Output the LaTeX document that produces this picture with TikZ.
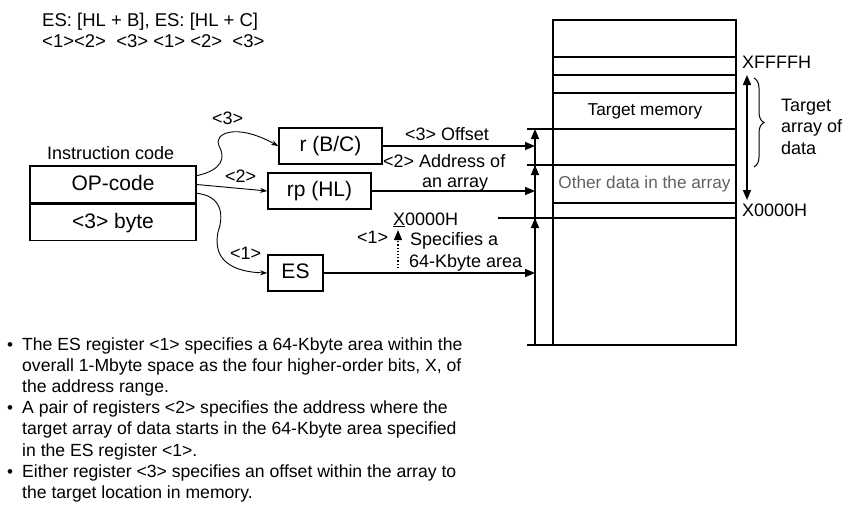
\documentclass[tikz,border=0pt]{standalone}
\usepackage{fontspec}
\setmainfont{Liberation Sans}
\usetikzlibrary{arrows.meta,decorations.pathreplacing}

\tikzset{
  regbox/.style={draw, line width=1.6pt, minimum width=103pt, minimum height=36pt, inner sep=0pt,
    text height=15pt, text depth=4pt, font=\fontsize{21}{24}\selectfont},
  lbl/.style={inner sep=0pt, anchor=base west, font=\fontsize{18}{21}\selectfont},
  memtxt/.style={inner sep=0pt, anchor=base, font=\fontsize{17.2}{20}\selectfont},
  notetxt/.style={inner sep=0pt, anchor=base west, font=\fontsize{17.6}{21}\selectfont},
  fat/.style={line width=1.6pt},
  arr/.style={-{Triangle[length=10pt,width=8pt]}},
  wiggle/.style={line width=0.9pt, -{Stealth[length=7pt,width=5pt]}},
}

\begin{document}
\begin{tikzpicture}[x=1pt, y=-1pt]
    \useasboundingbox (0,0) rectangle (849,512);

    % syntax at the top
    \node[lbl, font=\fontsize{18.5}{21}\selectfont] (syn) at (42,26.5) {ES: [HL + B], ES: [HL + C]};
    \node[lbl, font=\fontsize{18.5}{21}\selectfont] (synnum) at (42,47) {<1><2>\ \ <3> <1> <2>\ \ <3>};

    % instruction code
    \node[lbl] (instr) at (47,159) {Instruction code};
    \node[regbox, minimum width=166pt, minimum height=37pt] (opcode) at (113,184.5) {OP-code};
    \node[regbox, minimum width=166pt, anchor=north] (nbyte) at (opcode.south) {<3> byte};

    % registers
    \node[regbox] (rbc) at (330.5,146) {r (B/C)};
    \node[regbox] (rphl) at (319.5,191) {rp (HL)};
    \node[regbox, minimum width=55pt] (es) at (295.5,273) {ES};

    \draw[wiggle] (opcode.6) .. controls (222,170) and (226,158) .. (219,146)
        .. controls (213,134) and (235,122) .. (rbc.west);
    \draw[wiggle] (opcode.east) -- (rphl.west);
    \draw[wiggle] (opcode.-6) .. controls (222,196) and (224,215) .. (218,232)
        .. controls (212,262) and (235,272) .. (es.west);
    \node[lbl] (c3) at (212,124) {<3>};
    \node[lbl] (c2) at (225,182) {<2>};
    \node[lbl] (c1) at (230,259) {<1>};

    % memory map
    \draw[fat] (553,20) rectangle (736,345);
    \foreach \y in {57,75,93,129,165,203,218}
        \draw[fat] (553,\y) -- (736,\y);
    \node[memtxt] (tmem) at (645,115) {Target memory};
    \node[memtxt, text=black!62] (other) at (644.5,188) {Other data in the array};
    \node[lbl] (xffff) at (742,68) {XFFFFH};
    \node[lbl] (xhigh) at (742,216) {X0000H};
    \node[lbl, align=left, font=\fontsize{18}{21.5}\selectfont] (tarr) at (781,154) {Target\\array of\\data};
    \coordinate (atop) at (747,75);
    \coordinate (abot) at (747,200);
    \draw[fat, {Triangle[length=10pt,width=8pt]}-{Triangle[length=10pt,width=8pt]}] (atop) -- (abot);
    \coordinate (btop) at (754,78);
    \coordinate (bbot) at (754,167);
    \draw[line width=1pt, decorate, decoration={brace, amplitude=10pt}] (btop) -- (bbot);

    % address arrows
    \coordinate (colx) at (535,0);
    \coordinate (base) at (535,345);
    \draw[fat] (527,129) -- (553,129);
    \draw[fat] (527,165) -- (553,165);
    \draw[fat] (498,218) -- (553,218);
    \draw[fat] (527,345) -- (553,345);
    \draw[fat, arr] (base) -- (535,129);
    \draw[fat, arr] (base) -- (535,165);
    \draw[fat, arr] (base) -- (535,218);
    \draw[fat, arr] (rbc.east) -- (rbc.east -| colx);
    \draw[fat, arr] (rphl.east) -- (rphl.east -| colx);
    \draw[fat, arr] (es.east) -- (es.east -| colx);

    \node[lbl] (offs) at (405,140) {<3> Offset};
    \node[lbl] (addr) at (383,167) {<2> Address of};
    \node[lbl] (addr2) at (422,187) {an array};
    \node[lbl] (xlow) at (393,225) {\underline{X}0000H};
    \node[lbl] (n1) at (357,243) {<1>};
    \node[lbl] (spec) at (410,245) {Specifies a};
    \node[lbl] (spec2) at (409,267) {64-Kbyte area};
    \coordinate (dotbase) at (398,268);
    \coordinate (dottip) at (398,230);
    \draw[line width=1.2pt, dotted, arr] (dotbase) -- (dottip);

    % notes
    \foreach \y/\t in {350.5/{The ES register <1> specifies a 64-Kbyte area within the},
        371.6/{overall 1-Mbyte space as the four higher-order bits, X, of},
        392.7/{the address range.},
        413.8/{A pair of registers <2> specifies the address where the},
        434.9/{target array of data starts in the 64-Kbyte area specified},
        456/{in the ES register <1>.},
        477.1/{Either register <3> specifies an offset within the array to},
        498.2/{the target location in memory.}}
        \node[notetxt] (note\y) at (22,\y) {\t};
    \foreach \y in {350.5,413.8,477.1}
        \node[inner sep=0pt, anchor=base, font=\fontsize{17}{20}\selectfont] (bul\y) at (10,\y) {•};
\end{tikzpicture}
\end{document}
